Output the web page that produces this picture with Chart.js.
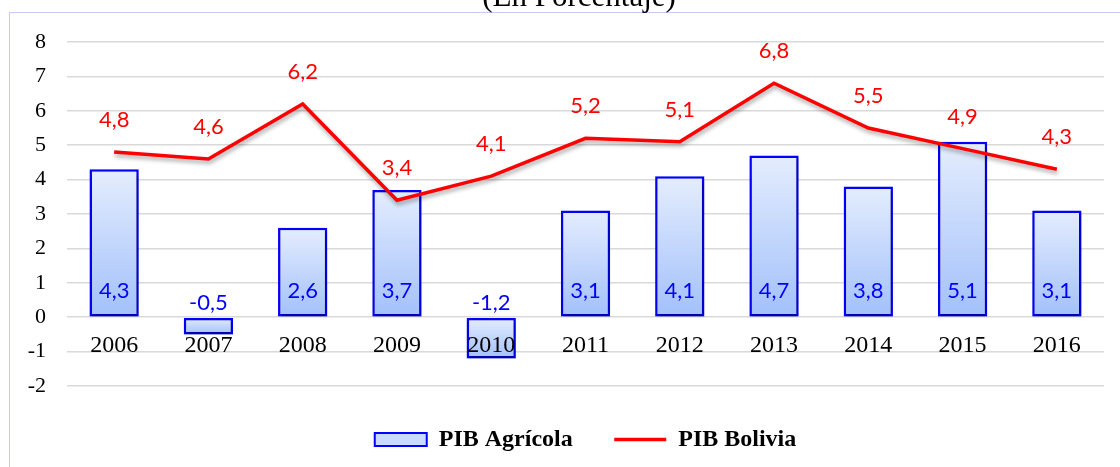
<!DOCTYPE html>
<html>
<head>
<meta charset="utf-8">
<script src="https://cdn.jsdelivr.net/npm/chart.js@4.4.1/dist/chart.umd.min.js"></script>
<style>
  html, body { margin: 0; padding: 0; background: #fff; overflow: hidden; }
  #frame { position: absolute; left: 9px; top: 12px; width: 1300px; height: 600px;
           border-top: 1.5px solid #c8c8fa; border-left: 1.5px solid #c8c8fa; }
  #wrap { position: absolute; left: 0; top: 0; width: 1120px; height: 467px; }
</style>
</head>
<body>
<div id="frame"></div>
<div id="wrap"><canvas id="pibChart" width="1120" height="467"></canvas></div>
<script>
// datos del gráfico
const years = ['2006', '2007', '2008', '2009', '2010', '2011', '2012', '2013', '2014', '2015', '2016'];
const pibAgricola = [4.3, -0.5, 2.6, 3.7, -1.2, 3.1, 4.1, 4.7, 3.8, 5.1, 3.1];
const pibBolivia = [4.8, 4.6, 6.2, 3.4, 4.1, 5.2, 5.1, 6.8, 5.5, 4.9, 4.3];
const yTicks = [-2, -1, 0, 1, 2, 3, 4, 5, 6, 7, 8];
const subtitle = '(En Porcentaje)';

const fmt = v => v.toFixed(1).replace('.', ',');

// degradado por barra (claro arriba, más oscuro abajo)
function barGradient(c) {
    const chart = c.chart;
    if (!chart.chartArea || c.type !== 'data') return '#c9dafd';
    const y = chart.scales.y;
    const top = y.getPixelForValue(Math.max(c.raw, 0));
    const bot = y.getPixelForValue(Math.min(c.raw, 0));
    const g = chart.ctx.createLinearGradient(0, top, 0, bot);
    g.addColorStop(0, '#e4edfd');
    g.addColorStop(1, '#a2c0fb');
    return g;
}

// sombras suaves como en Excel
const shadowPlugin = {
    id: 'shadow',
    beforeDatasetDraw(chart, args) {
        const ctx = chart.ctx;
        ctx.save();
        ctx.shadowColor = 'rgba(0,0,0,0.35)';
        ctx.shadowBlur = 4;
        ctx.shadowOffsetX = 1;
        ctx.shadowOffsetY = 3;
    },
    afterDatasetDraw(chart) {
        chart.ctx.restore();
    }
};

// etiquetas de valores
const labelsPlugin = {
    id: 'valueLabels',
    afterDatasetsDraw(chart) {
        const ctx = chart.ctx;
        const zero = chart.scales.y.getPixelForValue(0);
        ctx.save();
        ctx.font = '22px Lato';
        ctx.textAlign = 'center';
        ctx.textBaseline = 'middle';
        chart.getDatasetMeta(0).data.forEach((el, i) => {
            const v = pibAgricola[i];
            ctx.fillStyle = '#0000ff';
            ctx.fillText(fmt(v), el.x, v >= 0 ? zero - 26 : zero - 14);
        });
        chart.getDatasetMeta(1).data.forEach((el, i) => {
            ctx.fillStyle = '#ff0000';
            ctx.fillText(fmt(pibBolivia[i]), el.x, el.y - 32);
        });
        ctx.restore();
    }
};

// subtítulo cortado arriba
const subtitlePlugin = {
    id: 'subtitle',
    afterDraw(chart) {
        const ctx = chart.ctx;
        ctx.save();
        ctx.font = '31px "Liberation Serif"';
        ctx.fillStyle = '#000';
        ctx.textAlign = 'center';
        ctx.textBaseline = 'alphabetic';
        ctx.fillText(subtitle, 579, 6);
        ctx.restore();
    }
};

new Chart(document.getElementById('pibChart'), {
    type: 'bar',
    data: {
        labels: years,
        datasets: [
            {
                label: 'PIB Agrícola',
                data: pibAgricola,
                backgroundColor: barGradient,
                borderColor: '#0000ff',
                borderWidth: 2.5,
                borderSkipped: false,
                barPercentage: 0.85,
                categoryPercentage: 0.615,
                order: 1
            },
            {
                label: 'PIB Bolivia',
                type: 'line',
                data: pibBolivia,
                borderColor: '#ff0000',
                borderWidth: 3.5,
                pointRadius: 0,
                tension: 0,
                fill: false,
                order: 0
            }
        ]
    },
    options: {
        responsive: false,
        animation: false,
        devicePixelRatio: 1,
        layout: { padding: { left: 0, right: 16, top: 42, bottom: 5.5 } },
        plugins: {
            tooltip: { enabled: false },
            legend: {
                position: 'bottom',
                fullSize: false,
                labels: {
                    usePointStyle: true,
                    pointStyleWidth: 52,
                    boxHeight: 13,
                    padding: 41.5,
                    color: '#000',
                    font: { family: '"Liberation Serif"', size: 24, weight: 'bold' },
                    generateLabels: () => [
                        { text: 'PIB Agrícola', pointStyle: 'rect', fillStyle: '#c9dafd',
                          strokeStyle: '#0000ff', lineWidth: 2, datasetIndex: 0 },
                        { text: 'PIB Bolivia', pointStyle: 'line', fillStyle: '#ff0000',
                          strokeStyle: '#ff0000', lineWidth: 3.5, datasetIndex: 1 }
                    ]
                }
            }
        },
        scales: {
            x: {
                position: { y: 0 },
                grid: { display: false },
                border: { display: false },
                ticks: {
                    z: 1,
                    color: '#000',
                    padding: 6,
                    maxRotation: 0,
                    autoSkip: false,
                    font: { family: '"Liberation Serif"', size: 24 }
                }
            },
            y: {
                min: -2,
                max: 8,
                afterBuildTicks: s => { s.ticks = yTicks.map(v => ({ value: v })); },
                afterFit: s => { s.width = 67; },
                grid: { color: '#d9d9d9', lineWidth: 1.5, drawTicks: false },
                border: { display: false },
                ticks: {
                    color: '#000',
                    padding: 21,
                    font: { family: '"Liberation Serif"', size: 22 }
                }
            }
        }
    },
    plugins: [shadowPlugin, labelsPlugin, subtitlePlugin]
});
</script>
</body>
</html>
